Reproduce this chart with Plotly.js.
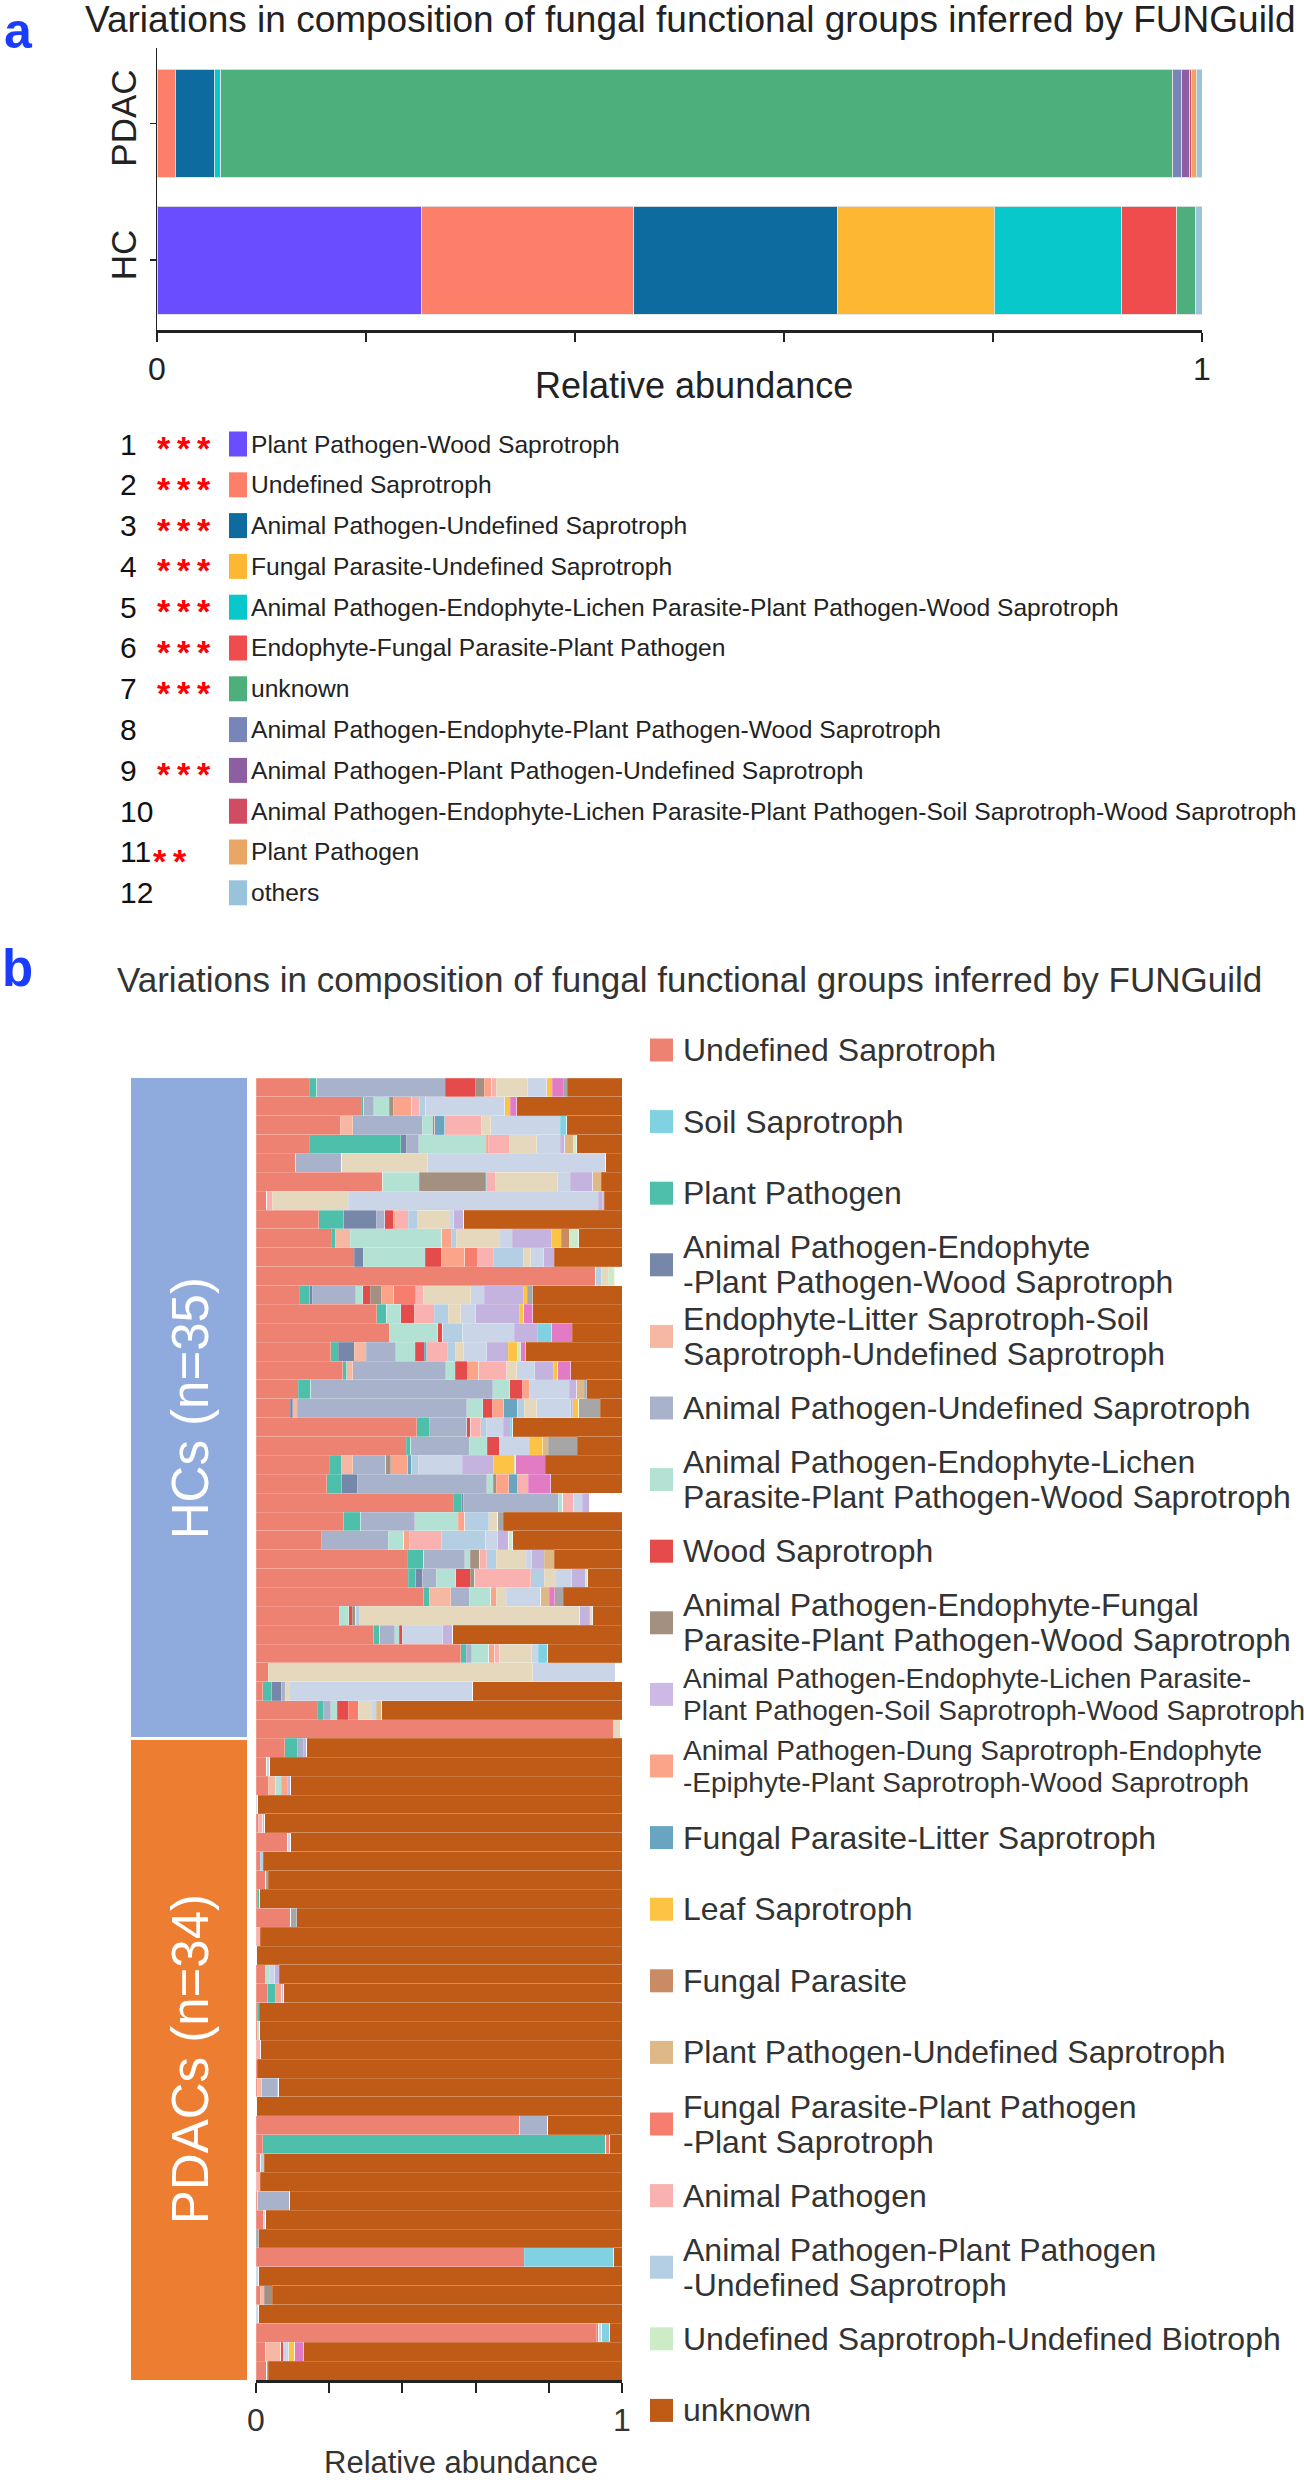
<!DOCTYPE html>
<html><head><meta charset="utf-8">
<script src="https://cdn.plot.ly/plotly-3.0.1.min.js"></script>
<style>html,body{margin:0;padding:0;background:#fff}#chart{width:1304px;height:2480px}</style>
</head><body><div id="chart"></div>
<script>
// ---------------- Panel a data ----------------
const groupsA = ['HC', 'PDAC'];
const guildsA = [
  'Plant Pathogen-Wood Saprotroph',
  'Undefined Saprotroph',
  'Animal Pathogen-Undefined Saprotroph',
  'Fungal Parasite-Undefined Saprotroph',
  'Animal Pathogen-Endophyte-Lichen Parasite-Plant Pathogen-Wood Saprotroph',
  'Endophyte-Fungal Parasite-Plant Pathogen',
  'unknown',
  'Animal Pathogen-Endophyte-Plant Pathogen-Wood Saprotroph',
  'Animal Pathogen-Plant Pathogen-Undefined Saprotroph',
  'Animal Pathogen-Endophyte-Lichen Parasite-Plant Pathogen-Soil Saprotroph-Wood Saprotroph',
  'Plant Pathogen',
  'others'
];
const colorsA = ['#6A4DFF','#FD7F6A','#0E6BA0','#FDB733','#08C8CC','#F04C4E','#4CAF7C','#7885B8','#8E5EA2','#D14B62','#E9A664','#98C3DB'];
const starsA = ['***','***','***','***','***','***','***','','***','','**',''];
const abundanceHC   = [0.253, 0.203, 0.195, 0.150, 0.122, 0.053, 0.018, 0, 0, 0, 0, 0.006];
const abundancePDAC = [0, 0.0175, 0.0375, 0, 0.006, 0, 0.911, 0.008, 0.008, 0.002, 0.005, 0.005];

// ---------------- Panel b data (rows: 35 HCs then 34 PDACs) ----------------
const nHC = 35, nPDAC = 34;
const undefinedSaprotroph = [.146,.287,.230,.146,.108,.346,.029,.172,.205,.269, .928,.118,.330,.364,.204,.237,.116,.093,.439,.410, .200,.193,.539,.240,.178,.413,.416,.459,.228,.322, .560,.034,.018,.168,.976,
  .079,.029,.034,0,.006,.087,.011,.027,.003,.095, 0,.002,.025,.032,.003,.004,0,.003,.004,.002, .721,.018,.013,0,.005,.020,0,.733,0,.011, 0,.931,.027,.029];
const plantPathogen = [.020,.008,0,.250,0,0,0,.068,.011,0, 0,.029,.027,0,.021,.011,.034,0,.035,.013, .034,.041,.023,.046,0,.046,.021,.015,0,.016, .015,0,.025,.016,0,
  .034,0,0,0,0,0,0,0,.007,0, 0,0,0,.020,.006,0,0,0,0,0, 0,.938,0,0,0,0,0,0,0,0, 0,.006,0,0];
const apEndoPlantWood = [0,0,0,.015,0,0,0,.089,0,.026, 0,.006,0,0,.043,0,0,.007,0,0, 0,.043,.006,0,0,0,.018,0,0,0, 0,0,.027,0,0,
  0,0,0,0,0,0,0,0,0,0, 0,0,0,0,0,0,0,0,0,0, 0,0,0,0,0,0,0,0,0,0, 0,0,0,0];
const endoLitterSoil = [0,0,.035,0,0,0,0,0,.042,0, 0,0,0,0,.033,.016,0,.013,0,0, .030,0,0,0,0,0,0,.058,0,0, 0,0,0,0,0,
  0,0,.020,0,0,0,0,0,0,0, 0,0,0,0,0,0,0,0,.012,0, 0,0,0,0,0,0,0,0,0,.011, 0,0,.041,0];
const apUndefSap = [.351,.027,.189,.034,.126,0,0,.023,0,0, 0,.119,0,0,.081,.255,.497,.463,.102,.160, .091,.353,.258,.148,.184,.112,.038,.051,0,.041, .015,0,.010,.020,0,
  .016,0,0,0,0,0,0,0,0,0, 0,0,0,0,0,0,0,0,.043,0, .076,0,0,0,.087,0,0,0,0,0, 0,0,0,0];
const apLichenPlantWood = [0,.042,.030,.184,0,.100,0,0,.249,.167, 0,.020,.039,.133,.053,.025,.046,.044,0,.049, 0,.018,.012,.118,.041,.015,.053,.058,.025,.012, .046,0,0,.018,0,
  0,0,.015,0,0,0,0,0,0,0, 0,0,.011,0,0,.006,0,0,.003,0, 0,0,0,0,0,0,0,0,0,0, 0,0,0,0];
const woodSaprotroph = [.082,0,.005,0,0,0,0,.023,0,.044, 0,.020,.036,.013,.025,.034,.036,.027,.011,.033, 0,0,0,0,0,0,.040,0,.010,.009, 0,0,0,.030,0,
  0,0,0,0,0,0,0,0,0,0, 0,0,0,0,0,0,0,0,0,0, 0,0,0,0,0,0,0,0,0,0, 0,0,.006,0];
const apEndoFungal = [.025,.011,0,0,0,.180,0,0,0,0, 0,.030,0,0,0,0,0,0,0,0, .013,.008,0,0,0,.026,.012,0,.010,0, 0,0,0,0,0,
  0,0,0,0,0,0,0,0,0,0, 0,0,0,0,0,0,0,0,0,0, 0,0,0,0,0,0,0,0,0,.023, 0,0,0,0];
const apDungEpiphyte = [.020,.050,0,.006,0,0,0,.005,.026,.064, 0,.034,0,0,0,.030,.018,.030,0,0, .046,.035,0,.018,.016,0,0,.016,0,0, .016,0,0,0,0,
  0,0,.016,0,0,0,0,0,0,0, 0,0,0,.018,0,0,0,0,0,0, 0,0,0,0,0,0,0,0,0,0, 0,0,0,0];
const fungalLitter = [0,0,.027,0,0,.004,0,0,0,0, 0,0,0,0,.007,0,0,.038,0,0, .011,.024,0,0,0,0,0,0,0,0, 0,0,0,0,0,
  0,0,0,0,0,0,0,0,0,0, 0,0,0,0,0,0,0,0,0,0, 0,0,0,0,0,0,0,0,0,0, 0,0,0,0];
const fpPlantSap = [0,0,0,0,0,0,0,0,0,.034, 0,.061,0,0,0,0,0,0,0,0, 0,0,0,0,0,0,0,0,0,0, 0,0,0,.027,0,
  0,0,0,0,0,0,0,0,0,0, 0,0,0,0,0,0,0,0,0,0, 0,.011,0,0,0,0,0,0,0,0, 0,0,0,0];
const animalPathogen = [.012,.023,.101,.057,0,.023,.016,.036,0,.044, 0,.020,.055,0,.055,.077,0,0,.027,0, 0,.029,.030,0,.089,.018,.153,0,0,0, .014,0,0,0,0,
  0,0,0,0,.012,0,0,0,0,0, .011,0,0,0,0,0,.013,0,0,0, 0,0,0,.011,0,0,0,0,0,0, 0,0,0,0];
const apPlantUndef = [0,.016,0,0,0,0,0,.026,.014,.082, .015,0,.038,.055,.023,0,0,.018,.015,0, .018,0,0,.066,.120,.027,.036,0,.011,0, 0,0,0,0,0,
  0,0,0,0,0,0,.009,0,0,0, 0,0,0,0,0,0,0,0,0,0, 0,0,.009,0,0,0,0,0,0,0, 0,0,0,0];
const otherGuildBeige = [.087,0,.025,.075,.235,.171,.207,.086,.118,.020, .020,.130,.034,0,.023,.027,0,.034,0,0, 0,0,0,.025,0,.082,.030,.027,.601,0, .087,.722,.011,.036,.020,
  0,0,0,0,0,0,0,0,0,0, 0,0,0,0,0,0,0,0,0,0, 0,0,0,0,0,0,0,0,0,0, 0,0,0,0];
const otherGuildPale = [.052,.216,.189,.064,.487,.034,.683,.012,.035,.036, 0,.036,.041,.141,.062,.050,.109,.093,.046,.082, .120,0,.023,0,.033,.014,.046,.094,0,.110, .018,.225,.501,.014,0,
  0,.009,0,.005,0,.008,0,0,0,0, 0,0,.015,0,0,0,0,0,0,0, 0,0,0,0,0,.006,0,0,.008,0, .008,.007,.015,0];
const apLichenSoilWood = [0,0,0,.012,0,.062,.013,.027,.108,.029, 0,.109,.119,.062,.059,.052,.021,.006,.020,0, .087,0,.020,0,.029,.035,.036,0,.025,.027, 0,0,0,0,0,
  .009,0,.010,0,.006,0,0,0,0,0, 0,0,.012,.006,0,0,0,0,0,0, 0,0,0,0,0,0,0,0,0,0, 0,0,0,0];
const leafSaprotroph = [.014,.014,0,0,0,0,.003,0,.026,0, 0,.009,.012,0,.025,.011,0,.016,0,.036, .055,0,0,0,0,0,0,0,0,0, 0,0,0,0,0,
  0,0,0,0,0,0,0,0,0,0, 0,0,0,0,0,0,0,0,0,0, 0,0,0,0,0,0,0,0,0,0, 0,0,.017,0];
const fungalParasite = [0,0,0,0,0,0,0,0,.023,0, 0,0,0,0,0,0,0,0,0,0, 0,0,0,0,0,0,0,0,0,0, 0,0,0,0,0,
  0,0,0,0,0,0,0,0,0,0, 0,0,0,0,0,0,0,0,0,0, 0,0,0,0,0,0,0,0,0,0, 0,0,0,0];
const plantPathUndef = [0,0,0,.025,0,.023,0,0,0,0, 0,0,0,0,0,0,.020,0,0,.015, 0,0,0,0,0,.027,0,.023,.005,0, 0,0,0,.014,0,
  0,0,0,0,0,0,0,0,0,0, 0,0,0,0,0,0,0,0,0,0, 0,0,0,0,0,0,0,0,0,0, 0,0,0,0];
const soilSaprotroph = [0,0,.018,0,0,0,0,0,0,0, 0,0,0,.040,0,0,0,0,.007,0, 0,0,0,0,0,0,0,0,0,0, .026,0,0,0,0,
  0,0,0,0,0,0,0,0,0,0, 0,0,0,0,0,0,0,0,0,0, 0,0,0,0,0,0,0,.245,0,0, 0,.023,0,0];
const undefBiotroph = [0,0,0,.009,0,0,0,0,.025,0, .017,0,0,0,.009,0,0,0,0,0, .005,0,0,0,.011,0,.007,0,.005,0, 0,0,0,0,0,
  0,0,0,0,0,0,0,0,0,0, 0,0,0,0,0,0,0,0,0,0, 0,0,0,0,0,0,0,0,0,0, 0,0,0,0];
const otherGuildMagenta = [.030,.018,0,0,0,0,0,0,0,0, 0,0,.025,.056,.014,.035,0,0,0,0, .080,.061,0,0,0,0,0,.015,0,0, 0,0,0,0,0,
  0,0,0,0,0,0,0,0,0,0, 0,0,0,0,0,0,0,0,0,0, 0,0,0,0,0,0,0,0,0,0, 0,0,.024,0];
const otherGuildGrey = [.012,0,0,0,0,0,0,0,0,0, 0,.015,0,0,0,0,.007,.059,0,.080, 0,0,0,.014,0,0,0,.023,0,0, 0,0,0,0,0,
  0,0,0,0,0,0,0,.007,0,.016, 0,0,0,0,0,0,0,0,0,0, 0,0,0,0,0,0,.008,0,0,0, 0,0,0,.005];
const unknownB = [.149,.288,.151,.123,.044,.057,.049,.433,.118,.185, 0,.244,.244,.136,.263,.140,.096,.059,.298,.122, .210,.195,0,.325,.299,.185,.094,.161,.080,.463, .203,0,.408,.657,0,
  .862,.962,.905,.995,.976,.905,.980,.966,.990,.889, .989,.998,.937,.924,.991,.990,.987,.997,.938,.998, .203,.033,.978,.989,.908,.974,.992,.022,.992,.955, .992,.033,.870,.966];

// legend b (label lines, colour)
const legendB = [
  [['Undefined Saprotroph'], '#EE8272'],
  [['Soil Saprotroph'], '#80D1E2'],
  [['Plant Pathogen'], '#4EBFAB'],
  [['Animal Pathogen-Endophyte', '-Plant Pathogen-Wood Saprotroph'], '#7787A9'],
  [['Endophyte-Litter Saprotroph-Soil', 'Saprotroph-Undefined Saprotroph'], '#F6B8A2'],
  [['Animal Pathogen-Undefined Saprotroph'], '#A8B2CB'],
  [['Animal Pathogen-Endophyte-Lichen', 'Parasite-Plant Pathogen-Wood Saprotroph'], '#B3E1D4'],
  [['Wood Saprotroph'], '#E54B4B'],
  [['Animal Pathogen-Endophyte-Fungal', 'Parasite-Plant Pathogen-Wood Saprotroph'], '#A39080'],
  [['Animal Pathogen-Endophyte-Lichen Parasite-', 'Plant Pathogen-Soil Saprotroph-Wood Saprotroph'], '#CCB9E6'],
  [['Animal Pathogen-Dung Saprotroph-Endophyte', '-Epiphyte-Plant Saprotroph-Wood Saprotroph'], '#FCA48A'],
  [['Fungal Parasite-Litter Saprotroph'], '#69A4C0'],
  [['Leaf Saprotroph'], '#FCC345'],
  [['Fungal Parasite'], '#C98B64'],
  [['Plant Pathogen-Undefined Saprotroph'], '#DEB887'],
  [['Fungal Parasite-Plant Pathogen', '-Plant Saprotroph'], '#F77E6F'],
  [['Animal Pathogen'], '#F9B2AF'],
  [['Animal Pathogen-Plant Pathogen', '-Undefined Saprotroph'], '#B4CEE3'],
  [['Undefined Saprotroph-Undefined Biotroph'], '#CDEBC6'],
  [['unknown'], '#BF5B17']
];

// stacking order of panel b series (left to right)
const seriesB = [
  ['Undefined Saprotroph', undefinedSaprotroph, '#EE8272'],
  ['Plant Pathogen', plantPathogen, '#4EBFAB'],
  ['Animal Pathogen-Endophyte-Plant Pathogen-Wood Saprotroph', apEndoPlantWood, '#7787A9'],
  ['Endophyte-Litter Saprotroph-Soil Saprotroph-Undefined Saprotroph', endoLitterSoil, '#F6B8A2'],
  ['Animal Pathogen-Undefined Saprotroph', apUndefSap, '#A8B2CB'],
  ['Animal Pathogen-Endophyte-Lichen Parasite-Plant Pathogen-Wood Saprotroph', apLichenPlantWood, '#B3E1D4'],
  ['Wood Saprotroph', woodSaprotroph, '#E54B4B'],
  ['Animal Pathogen-Endophyte-Fungal Parasite-Plant Pathogen-Wood Saprotroph', apEndoFungal, '#A39080'],
  ['Animal Pathogen-Dung Saprotroph-Endophyte-Epiphyte-Plant Saprotroph-Wood Saprotroph', apDungEpiphyte, '#FCA48A'],
  ['Fungal Parasite-Litter Saprotroph', fungalLitter, '#69A4C0'],
  ['Fungal Parasite-Plant Pathogen-Plant Saprotroph', fpPlantSap, '#F77E6F'],
  ['Animal Pathogen', animalPathogen, '#F9B2AF'],
  ['Animal Pathogen-Plant Pathogen-Undefined Saprotroph', apPlantUndef, '#B4CEE3'],
  ['Other guild A', otherGuildBeige, '#E6D8BD'],
  ['Other guild B', otherGuildPale, '#CBD5E8'],
  ['Animal Pathogen-Endophyte-Lichen Parasite-Plant Pathogen-Soil Saprotroph-Wood Saprotroph', apLichenSoilWood, '#C4B3DE'],
  ['Leaf Saprotroph', leafSaprotroph, '#FCC345'],
  ['Fungal Parasite', fungalParasite, '#C98B64'],
  ['Plant Pathogen-Undefined Saprotroph', plantPathUndef, '#DEB887'],
  ['Soil Saprotroph', soilSaprotroph, '#80D1E2'],
  ['Undefined Saprotroph-Undefined Biotroph', undefBiotroph, '#CDEBC6'],
  ['Other guild C', otherGuildMagenta, '#E37BC4'],
  ['Other guild D', otherGuildGrey, '#A6A6A6'],
  ['unknown', unknownB, '#BF5B17']
];

// ---------------- build ----------------
const W = 1304, H = 2480;
const px = v => v / W, py = v => 1 - v / H;
const FONT = 'Liberation Sans, Arial, Helvetica, sans-serif';

const samples = [];
for (let i = 1; i <= nHC; i++) samples.push('HC' + i);
for (let i = 1; i <= nPDAC; i++) samples.push('PDAC' + i);

const traces = [];
guildsA.forEach((g, i) => {
  traces.push({
    type: 'bar', orientation: 'h', name: g, y: groupsA, x: [abundanceHC[i], abundancePDAC[i]],
    xaxis: 'x', yaxis: 'y', width: 0.79, showlegend: false,
    marker: {color: colorsA[i], line: {color: 'rgba(225,225,225,0.9)', width: 1}}
  });
});
seriesB.forEach(([name, vals, col]) => {
  traces.push({
    type: 'bar', orientation: 'h', name: name, y: samples, x: vals,
    xaxis: 'x2', yaxis: 'y2', showlegend: false,
    marker: {color: col, line: {color: 'rgba(255,255,255,0.35)', width: 0.5}}
  });
});

const shapes = [], annotations = [];
const note = (o) => annotations.push(Object.assign({xref: 'paper', yref: 'paper', showarrow: false}, o));
// panel labels and titles
note({text: '<b>a</b>', x: px(2), y: py(1), xanchor: 'left', yanchor: 'top', font: {family: FONT, size: 50, color: '#1A3CFF'}});
note({text: 'Variations in composition of fungal functional groups inferred by FUNGuild', x: px(690), y: py(20), xanchor: 'center', yanchor: 'middle', font: {family: FONT, size: 37, color: '#222'}});
note({text: 'Relative abundance', x: px(694), y: py(385), xanchor: 'center', yanchor: 'middle', font: {family: FONT, size: 36, color: '#222'}});
note({text: '<b>b</b>', x: px(0), y: py(938), xanchor: 'left', yanchor: 'top', font: {family: FONT, size: 51, color: '#1A3CFF'}});
note({text: 'Variations in composition of fungal functional groups inferred by FUNGuild', x: px(689), y: py(979), xanchor: 'center', yanchor: 'middle', font: {family: FONT, size: 35, color: '#333'}});
note({text: 'Relative abundance', x: px(461), y: py(2462), xanchor: 'center', yanchor: 'middle', font: {family: FONT, size: 31, color: '#333'}});

// legend a
const ROW0 = 444, ROWSTEP = 40.8;
const TS = '\u2009';
guildsA.forEach((g, i) => {
  const cy = ROW0 + i * ROWSTEP;
  note({text: String(i + 1), x: px(118), y: py(cy), xanchor: 'left', yanchor: 'middle', font: {family: FONT, size: 30, color: '#111'}});
  if (starsA[i]) {
    const two = starsA[i].length === 2;
    note({text: '<b>' + starsA[i].split('').join(TS) + '</b>', x: px(two ? 152 : 156), y: py(cy), yshift: two ? -9 : -4,
      xanchor: 'left', yanchor: 'middle', borderpad: 0, font: {family: FONT, size: 34, color: '#FF0000'}});
  }
  shapes.push({type: 'rect', xref: 'paper', yref: 'paper', x0: px(229), x1: px(247), y0: py(cy - 12.5), y1: py(cy + 12.5), fillcolor: colorsA[i], line: {width: 0}});
  note({text: g, x: px(249), y: py(cy), xanchor: 'left', yanchor: 'middle', font: {family: FONT, size: 24.6, color: '#222'}});
});

// legend b
legendB.forEach(([lines, col], i) => {
  const cy = 1050 + i * 71.6;
  const small = lines[0].length > 40;
  const fs = small ? 28 : 32;
  const gap = small ? 32 : 35;
  shapes.push({type: 'rect', xref: 'paper', yref: 'paper', x0: px(650), x1: px(673), y0: py(cy - 11.5), y1: py(cy + 11.5), fillcolor: col, line: {width: 0}});
  lines.forEach((t, k) => {
    const ly = lines.length === 1 ? cy : cy + (k - 0.5) * gap;
    note({text: t, x: px(681), y: py(ly), xanchor: 'left', yanchor: 'middle', font: {family: FONT, size: fs, color: '#333'}});
  });
});

// group boxes panel b
shapes.push({type: 'rect', xref: 'paper', yref: 'y2', x0: px(131), x1: px(247), y0: -0.5, y1: nHC - 0.58, fillcolor: '#8FAADC', line: {width: 0}, layer: 'below'});
shapes.push({type: 'rect', xref: 'paper', yref: 'y2', x0: px(131), x1: px(247), y0: nHC - 0.42, y1: nHC + nPDAC - 0.5, fillcolor: '#ED7D31', line: {width: 0}, layer: 'below'});
annotations.push({text: 'HCs (n=35)', x: px(190), y: (nHC - 1) / 2, xref: 'paper', yref: 'y2', textangle: -90, xanchor: 'center', yanchor: 'middle', showarrow: false, font: {family: FONT, size: 51, color: '#FFFFFF'}});
annotations.push({text: 'PDACs (n=34)', x: px(190), y: nHC + (nPDAC - 1) / 2, xref: 'paper', yref: 'y2', textangle: -90, xanchor: 'center', yanchor: 'middle', showarrow: false, font: {family: FONT, size: 51, color: '#FFFFFF'}});

const layout = {
  width: W, height: H, margin: {l: 0, r: 0, t: 0, b: 0},
  paper_bgcolor: '#fff', plot_bgcolor: 'rgba(0,0,0,0)',
  barmode: 'stack', bargap: 0, showlegend: false,
  font: {family: FONT, color: '#222'},
  xaxis: {domain: [px(157), px(1202)], anchor: 'y', range: [0, 1], tickvals: [0, .2, .4, .6, .8, 1], ticktext: ['0', '', '', '', '', '1'],
    ticks: 'outside', ticklen: 9, tickwidth: 2, tickcolor: '#222', showline: true, linewidth: 3, linecolor: '#222',
    showgrid: false, zeroline: false, tickfont: {family: FONT, size: 32, color: '#222'}},
  yaxis: {domain: [py(330), py(48)], anchor: 'x', type: 'category', categoryarray: groupsA, range: [-0.51, 1.55],
    ticks: 'outside', ticklen: 6, tickwidth: 1.5, tickcolor: '#222', showline: true, linewidth: 1.5, linecolor: '#222',
    showgrid: false, zeroline: false, tickangle: -90, tickfont: {family: FONT, size: 35, color: '#222'}},
  xaxis2: {domain: [px(256), px(622)], anchor: 'y2', range: [0, 1], tickvals: [0, .2, .4, .6, .8, 1], ticktext: ['0', '', '', '', '', '1'],
    ticks: 'outside', ticklen: 10, tickwidth: 2, tickcolor: '#222', showline: true, linewidth: 2.5, linecolor: '#222',
    showgrid: false, zeroline: false, tickfont: {family: FONT, size: 32, color: '#333'}},
  yaxis2: {domain: [py(2380), py(1078)], anchor: 'x2', type: 'category', categoryarray: samples, range: [nHC + nPDAC - 0.5, -0.5],
    showticklabels: false, ticks: '', showline: false, showgrid: false, zeroline: false},
  shapes: shapes, annotations: annotations
};

Plotly.newPlot('chart', traces, layout, {staticPlot: true, displayModeBar: false});
</script>
</body></html>
